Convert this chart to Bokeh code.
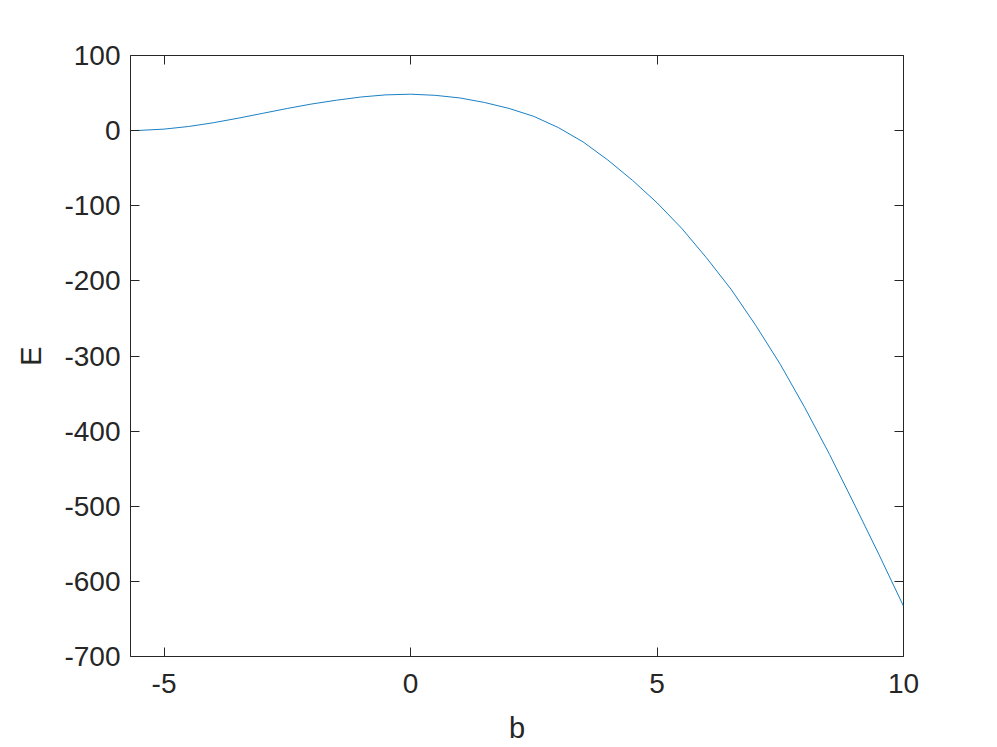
from bokeh.plotting import figure
from bokeh.models import Range1d, LinearAxis, FixedTicker, CustomJSTickFormatter
from bokeh.embed import file_html
from bokeh.resources import INLINE

# values
b_vals = [-5.68, -5.5, -5.0, -4.5, -4.0, -3.5, -3.0, -2.5, -2.0, -1.5,
          -1.0, -0.5, 0.0, 0.5, 1.0, 1.5, 2.0, 2.5, 3.0, 3.5,
          4.0, 4.5, 5.0, 5.5, 6.0, 6.5, 7.0, 7.5, 8.0, 8.5,
          9.0, 9.5, 10.0]
E_vals = [0.0, 0.3, 2.0, 5.5, 10.5, 16.5, 23.0, 29.5, 35.5, 40.5,
          44.8, 47.6, 48.5, 47.0, 43.5, 37.5, 29.5, 19.0, 4.0, -15.0,
          -39.0, -66.0, -96.0, -130.0, -169.0, -211.0, -259.0, -311.0, -369.0, -431.0,
          -497.0, -564.0, -633.0]
x_ticks = [-5, 0, 5, 10]
y_ticks = [-700, -600, -500, -400, -300, -200, -100, 0, 100]

FONT = "Liberation Sans"
AX = "#262626"

p = figure(width=990, height=746,
           x_range=Range1d(-5.68, 10), y_range=Range1d(-700, 100),
           output_backend="svg", toolbar_location=None,
           min_border_left=130, min_border_right=87,
           min_border_top=55, min_border_bottom=90)
p.background_fill_color = "white"
p.border_fill_color = "white"
p.outline_line_color = AX
p.outline_line_width = 1
p.xgrid.visible = False
p.ygrid.visible = False

p.line(b_vals, E_vals, line_color="#0072BD", line_width=0.9)

plain = CustomJSTickFormatter(code="return String(tick);")

def style(ax, ticks, labels=True):
    ax.ticker = FixedTicker(ticks=ticks)
    ax.major_tick_in = 9
    ax.major_tick_out = 0
    ax.minor_tick_line_color = None
    ax.major_tick_line_color = AX
    ax.axis_line_color = None
    ax.major_label_text_color = AX
    ax.major_label_text_font = FONT
    ax.major_label_text_font_size = "28px"
    ax.axis_label_text_font = FONT
    ax.axis_label_text_font_size = "29px"
    ax.axis_label_text_font_style = "normal"
    ax.axis_label_text_color = AX
    if labels:
        ax.formatter = plain
    else:
        ax.formatter = CustomJSTickFormatter(code="return '';")
        ax.major_label_standoff = 0

xa = p.xaxis[0]
style(xa, x_ticks)
xa.axis_label = "b"
xa.major_label_standoff = 17
xa.axis_label_standoff = 16

ya = p.yaxis[0]
style(ya, y_ticks)
ya.axis_label = "E"
ya.major_label_standoff = 10
ya.axis_label_standoff = 14

top = LinearAxis()
style(top, x_ticks, labels=False)
p.add_layout(top, "above")
right = LinearAxis()
style(right, y_ticks, labels=False)
p.add_layout(right, "right")

open("out.html", "w").write(file_html(p, INLINE))
